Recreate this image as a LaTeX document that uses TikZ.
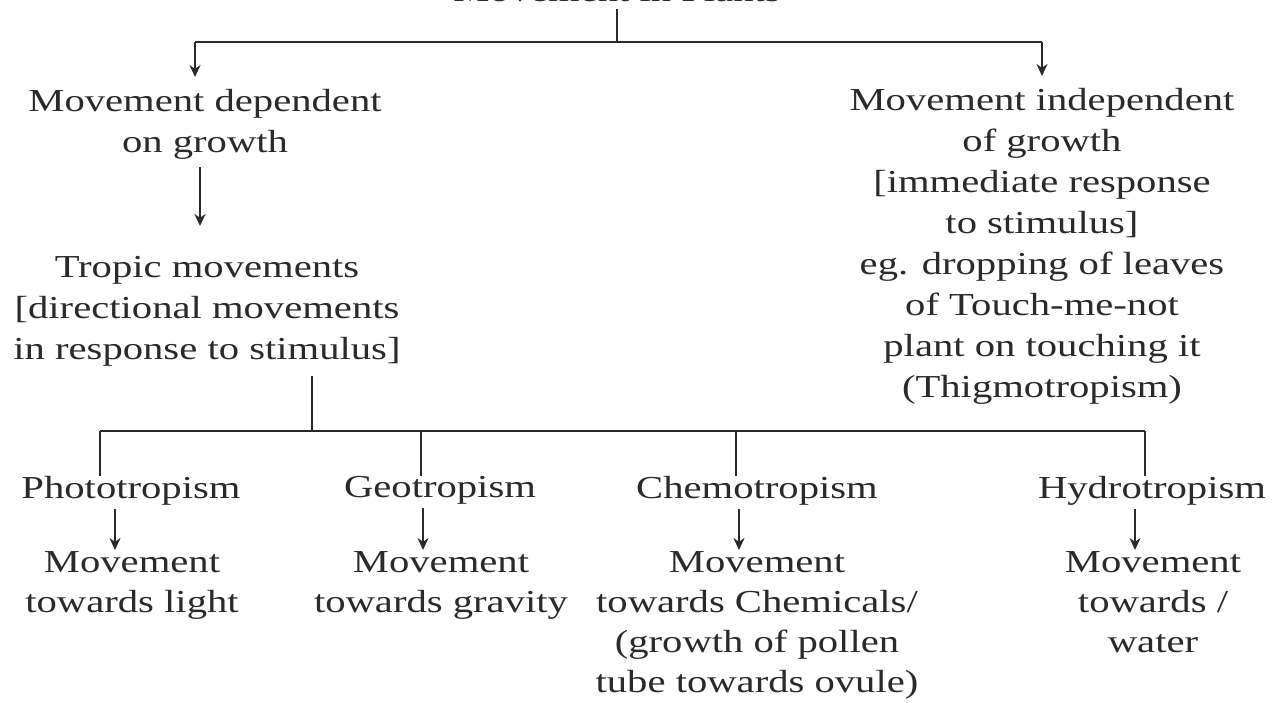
\documentclass[tikz,border=0pt]{standalone}
\usepackage{fontspec}
\setmainfont[FakeStretch=1.27]{Liberation Serif}
\usetikzlibrary{arrows.meta}
\definecolor{ink}{HTML}{2A2A2A}
\begin{document}
\begin{tikzpicture}[x=0.5pt,y=-0.5pt,
  txt/.style={inner sep=0pt, outer sep=0pt, align=center, text=ink,
    font=\fontsize{16}{20.5}\selectfont, anchor=north},
  ln/.style={draw=ink, line width=1.2pt},
  arr/.style={ln, -{Stealth[length=6pt,width=5.5pt]}}]
\fill[white] (0,0) rectangle (1279,702);
\clip (0,0) rectangle (1279,702);
% title (cut off at the top edge, as in the reference)
\node[txt, anchor=base] (title) at (617,1) {Movement in Plants};
% level 1
\node[txt] (A) at (205,89) {Movement dependent\\on growth};
\node[txt] (R) at (1042,88) {Movement independent\\of growth\\{[}immediate response\\to stimulus{]}\\eg. dropping of leaves\\of Touch-me-not\\plant on touching it\\(Thigmotropism)};
% level 2
\node[txt] (B) at (207,256) {Tropic movements\\{[}directional movements\\in response to stimulus{]}};
% level 3 labels
\node[txt] (P) at (131,476) {Phototropism};
\node[txt] (G) at (440,476) {Geotropism};
\node[txt] (C) at (757,476) {Chemotropism};
\node[txt] (H) at (1152,476) {Hydrotropism};
% descriptions
\begin{scope}[txt/.append style={font=\fontsize{16}{20}\selectfont}]
\node[txt] (Pd) at (132,552) {Movement\\towards light};
\node[txt] (Gd) at (441,552) {Movement\\towards gravity};
\node[txt] (Cd) at (757,552) {Movement\\towards Chemicals/\\(growth of pollen\\tube towards ovule)};
\node[txt] (Hd) at (1153,552) {Movement\\towards /\\water};
\end{scope}
% top connectors
\coordinate (j0) at (617,42);
\coordinate (jA) at (195,42);
\coordinate (jR) at (1042,42);
\draw[ln] ([yshift=-4pt]title.south) -- (j0);
\draw[ln] (jA) -- (jR);
\draw[arr, shorten >=6pt] (jA) -- (jA |- A.north);
\draw[arr, shorten >=6pt] (jR) -- (jR |- R.north);
% A -> B
\coordinate (xAB) at (200,0);
\draw[arr, shorten <=4pt, shorten >=15pt] (A.south -| xAB) -- (B.north -| xAB);
% B -> bar
\coordinate (jB) at (312,431);
\draw[ln, shorten <=5pt] (B.south -| jB) -- (jB);
\coordinate (d1) at (100,431);
\coordinate (d2) at (421,431);
\coordinate (d3) at (736,431);
\coordinate (d4) at (1145,431);
\draw[ln] (d1) -- (d4);
\draw[ln] (d1) -- (d1 |- P.north);
\draw[ln] (d2) -- (d2 |- G.north);
\draw[ln] (d3) -- (d3 |- C.north);
\draw[ln] (d4) -- (d4 |- H.north);
% label -> description arrows
\coordinate (xP) at (115,0);
\coordinate (xG) at (423,0);
\coordinate (xC) at (739,0);
\coordinate (xH) at (1135,0);
\draw[arr, shorten <=2pt, shorten >=1pt] (P.south -| xP) -- (Pd.north -| xP);
\draw[arr, shorten <=2pt, shorten >=1pt] (G.south -| xG) -- (Gd.north -| xG);
\draw[arr, shorten <=2pt, shorten >=1pt] (C.south -| xC) -- (Cd.north -| xC);
\draw[arr, shorten <=2pt, shorten >=1pt] (H.south -| xH) -- (Hd.north -| xH);
\end{tikzpicture}
\end{document}
